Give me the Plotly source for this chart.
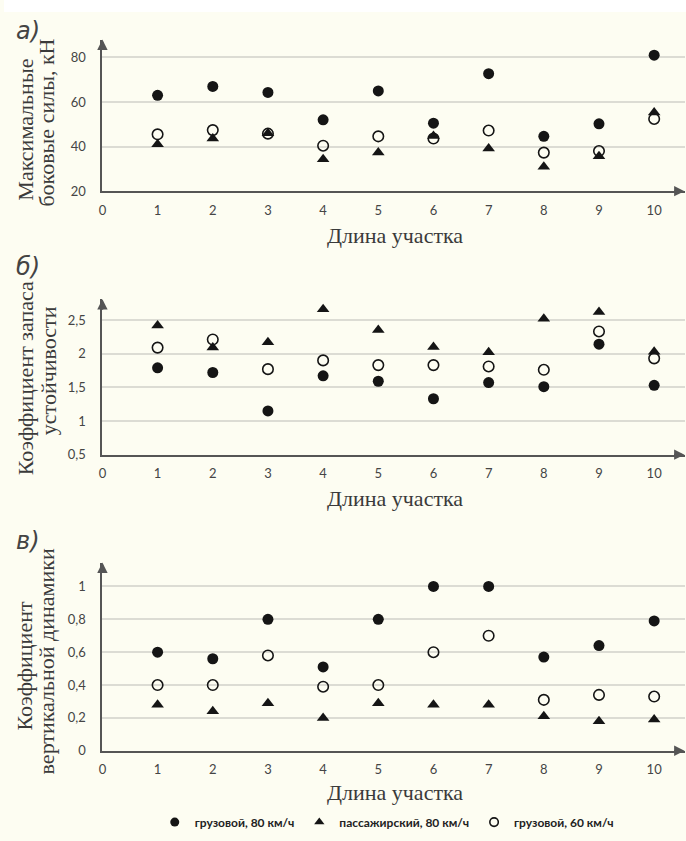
import plotly.graph_objects as go

# ---------------- data ----------------
sections = [1, 2, 3, 4, 5, 6, 7, 8, 9, 10]
x_tick_vals = [0, 1, 2, 3, 4, 5, 6, 7, 8, 9, 10]
x_tick_text = ["0", "1", "2", "3", "4", "5", "6", "7", "8", "9", "10"]

series_names = ["грузовой, 80 км/ч", "пассажирский, 80 км/ч", "грузовой, 60 км/ч"]

# panel а) – max lateral forces, kN
a_freight80 = [63, 67, 64.3, 52, 65, 50.5, 72.7, 44.6, 50.2, 81]
a_pass80 = [41, 43.6, 46, 34.3, 37.4, 44.8, 39.2, 31, 35.7, 55.3]
a_freight60 = [45.5, 47.4, 45.8, 40.4, 44.6, 43.6, 47.2, 37.3, 38, 52.4]
a_ticks = [20, 40, 60, 80]
a_ticktext = ["20", "40", "60", "80"]

# panel б) – stability coefficient
b_freight80 = [1.79, 1.72, 1.15, 1.67, 1.59, 1.33, 1.57, 1.51, 2.14, 1.53]
b_pass80 = [2.42, 2.09, 2.17, 2.66, 2.35, 2.10, 2.02, 2.52, 2.62, 2.03]
b_freight60 = [2.09, 2.21, 1.77, 1.90, 1.83, 1.83, 1.81, 1.76, 2.33, 1.93]
b_ticks = [0.5, 1, 1.5, 2, 2.5]
b_ticktext = ["0,5", "1", "1,5", "2", "2,5"]

# panel в) – vertical dynamics coefficient
c_freight80 = [0.60, 0.56, 0.80, 0.51, 0.80, 1.00, 1.00, 0.57, 0.64, 0.79]
c_pass80 = [0.28, 0.24, 0.29, 0.20, 0.29, 0.28, 0.28, 0.21, 0.18, 0.19]
c_freight60 = [0.40, 0.40, 0.58, 0.39, 0.40, 0.60, 0.70, 0.31, 0.34, 0.33]
c_ticks = [0, 0.2, 0.4, 0.6, 0.8, 1]
c_ticktext = ["0", "0,2", "0,4", "0,6", "0,8", "1"]

# ---------------- layout constants ----------------
W, H = 686, 841
BG = "#FDFDF2"
INK = "#151515"
AXIS = "#555555"
GRID = "#DCDCD4"
SERIF = "Liberation Serif"
SANS = "Lato"

def py(p):  # pixel row -> paper fraction
    return 1 - p / H

def px(p):
    return p / W

panels = [
    dict(ax="", data=(a_freight80, a_pass80, a_freight60), ticks=a_ticks, tt=a_ticktext,
         yr=[20, 88], top=40, bot=193, letter="а)", ly=31,
         title=["Максимальные", "боковые силы, кН"], tx=[22, 43], tyc=[131, 124], xt=238),
    dict(ax="2", data=(b_freight80, b_pass80, b_freight60), ticks=b_ticks, tt=b_ticktext,
         yr=[0.5, 2.81], top=302, bot=459, letter="б)", ly=270,
         title=["Коэффициент запаса", "устойчивости"], tx=[21, 45], tyc=[382, 374], xt=503),
    dict(ax="3", data=(c_freight80, c_pass80, c_freight60), ticks=c_ticks, tt=c_ticktext,
         yr=[0, 1.145], top=568, bot=758, letter="в)", ly=546,
         title=["Коэффициент", "вертикальной динамики"], tx=[21, 43], tyc=[672, 668], xt=800),
]

XR = [0, 10.55]
x_dom = [px(99), px(684.5)]

fig = go.Figure()
annotations = []
layout = {}

def marker_style(k, size):
    if k == 0:
        return dict(symbol="circle", size=size, color=INK, line=dict(width=0))
    if k == 1:
        return dict(symbol="triangle-up", size=size, color=INK, line=dict(width=0))
    return dict(symbol="circle-open", size=size - 0.5, color=INK, line=dict(width=1.6, color=INK))

for i, p in enumerate(panels):
    xa = "x" + p["ax"]
    ya = "y" + p["ax"]
    for k in range(3):
        fig.add_trace(go.Scatter(
            x=sections, y=p["data"][k], mode="markers", name=series_names[k],
            marker=marker_style(k, 11), xaxis=xa, yaxis=ya, showlegend=False,
            legendgroup=str(k),
        ))
    layout["xaxis" + p["ax"]] = dict(
        domain=x_dom, range=XR, anchor=ya, tickvals=x_tick_vals, ticktext=x_tick_text,
        showgrid=False, zeroline=False, showline=True, linecolor=AXIS, linewidth=2,
        ticks="outside", ticklen=6, tickcolor="rgba(0,0,0,0)",
        tickfont=dict(family=SANS, size=13, color="#454545"),
    )
    layout["yaxis" + p["ax"]] = dict(
        domain=[py(p["bot"]), py(p["top"])], range=p["yr"], anchor=xa,
        tickvals=p["ticks"], ticktext=p["tt"],
        showgrid=True, gridcolor=GRID, gridwidth=1.5, zeroline=False,
        showline=True, linecolor=AXIS, linewidth=2,
        ticks="outside", ticklen=12, tickcolor="rgba(0,0,0,0)",
        tickfont=dict(family=SANS, size=13, color="#454545"),
    )
    # arrows at the axis ends
    annotations.append(dict(x=0, y=p["yr"][1], xref=xa, yref=ya, ax=0, ay=12,
                            showarrow=True, arrowhead=2,
                            arrowsize=1.3, arrowwidth=1.6, arrowcolor=AXIS, text=""))
    annotations.append(dict(x=XR[1], y=p["yr"][0], xref=xa, yref=ya, ax=-12, ay=0,
                            showarrow=True, arrowhead=2,
                            arrowsize=1.3, arrowwidth=1.6, arrowcolor=AXIS, text=""))
    # panel letter
    annotations.append(dict(x=px(10), y=py(p["ly"]), xref="paper", yref="paper",
                            xanchor="left", yanchor="middle", showarrow=False,
                            text="<i>" + p["letter"] + "</i>",
                            font=dict(family="DejaVu Sans", size=24, color="#444444")))
    # y title (two rotated lines)
    for j in range(2):
        annotations.append(dict(x=px(p["tx"][j]), y=py(p["tyc"][j]), xref="paper", yref="paper",
                                xanchor="center", yanchor="middle", showarrow=False,
                                textangle=-90, text=p["title"][j],
                                font=dict(family=SERIF, size=22, color="#3a3a3a")))
    # x title
    annotations.append(dict(x=px(393), y=py(p["xt"]), xref="paper", yref="paper",
                            xanchor="center", yanchor="middle", showarrow=False,
                            text="Длина участка",
                            font=dict(family=SERIF, size=22, color="#3a3a3a")))

# legend entries (smaller symbols than the plotted marks, as in the original)
for k in range(3):
    fig.add_trace(go.Scatter(
        x=[None], y=[None], mode="markers", name=series_names[k],
        marker=marker_style(k, 9), showlegend=True, legendgroup=str(k),
    ))

fig.update_layout(
    width=W, height=H, margin=dict(l=0, r=0, t=0, b=0),
    paper_bgcolor=BG, plot_bgcolor=BG,
    annotations=annotations,
    legend=dict(orientation="h", x=px(385), y=py(830), xanchor="center", yanchor="middle",
                font=dict(family=SANS, size=12, color="#222222", weight="bold"),
                bgcolor="rgba(0,0,0,0)", itemwidth=30, traceorder="normal"),
    shapes=[dict(type="rect", xref="paper", yref="paper", x0=0, x1=1, y0=py(12), y1=1,
                 fillcolor="white", line=dict(width=0), layer="below")],
    **layout,
)

fig.write_html("out.html")
